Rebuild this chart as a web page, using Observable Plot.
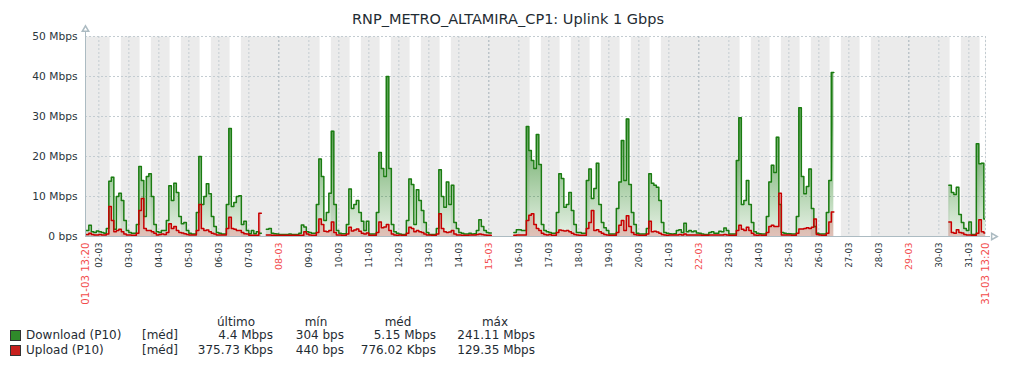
<!DOCTYPE html>
<html><head><meta charset="utf-8">
<script src="https://cdn.jsdelivr.net/npm/d3@7"></script>
<script src="https://cdn.jsdelivr.net/npm/@observablehq/plot@0.6"></script>
<style>
body{margin:0;background:#fff;font-family:"DejaVu Sans",sans-serif;color:#1f2c33}
#wrap{position:relative;width:1016px;height:368px;overflow:hidden}
#title{position:absolute;left:0;top:11px;width:1016px;text-align:center;font-size:14.5px;line-height:16px;white-space:nowrap}
#chart{position:absolute;left:0;top:26px}
.lg{position:absolute;font-size:12px;line-height:14px;white-space:nowrap}
.sw{position:absolute;width:9px;height:9px;border:1px solid #333}
</style></head>
<body><div id="wrap"><div id="title"></div><div id="chart"></div></div>
<script>
const N = null;
const chartTitle = "RNP_METRO_ALTAMIRA_CP1: Uplink 1 Gbps";
const yTicks = [0, 10, 20, 30, 40, 50];
const yTickLabels = ["0 bps", "10 Mbps", "20 Mbps", "30 Mbps", "40 Mbps", "50 Mbps"];
const startLabel = "01-03 13:20";
const endLabel = "31-03 13:20";

// 2-hour samples (Mbps), starting 01-03 12:00
const download = [
  1.5, 1.5, 2.8, 1.2, 1.0, 1.4,                                   // 01 (12h..22h)
  1.2, 1.0, 0.8, 2.0, 13.8, 14.8, 1.8, 10.0, 10.8, 9.0, 4.0, 1.5, // 02
  1.0, 0.8, 0.8, 3.0, 17.5, 14.0, 5.0, 15.0, 15.7, 10.0, 3.0, 1.2, // 03
  1.0, 1.5, 1.5, 4.0, 12.7, 9.0, 13.3, 11.0, 5.0, 3.2, 3.5, 1.5,  // 04
  0.8, 0.6, 0.6, 6.0, 20.0, 8.0, 10.0, 13.2, 10.7, 5.0, 2.5, 1.0, // 05
  0.8, 0.6, 0.6, 8.0, 27.0, 7.5, 8.5, 10.0, 10.2, 3.0, 3.8, 1.5,  // 06
  0.7, 1.5, 0.7, 1.2, 0.8, N, N, 1.8, 2.0, 0.8, 0.7, 0.6,         // 07
  0.5, 0.5, 0.5, 0.5, 0.6, 0.5, 0.5, 0.5, 0.8, 2.9, 2.4, 1.2,     // 08
  1.0, 0.8, 0.8, 8.0, 19.4, 15.0, 4.0, 6.0, 10.8, 26.3, 8.0, 1.5, // 09
  0.8, 0.7, 0.7, 3.0, 11.9, 7.0, 8.0, 9.0, 6.0, 3.8, 1.5, 3.8,    // 10
  0.6, 0.6, 0.6, 6.0, 21.0, 17.0, 15.0, 40.0, 17.0, 3.0, 1.2, 0.8, // 11
  0.6, 0.5, 0.5, 4.0, 14.4, 13.0, 3.0, 11.7, 9.0, 6.5, 3.5, 1.0,  // 12
  0.5, 0.5, 0.5, 2.0, 16.7, 10.0, 7.3, 13.6, 8.0, 12.8, 3.5, 2.0, // 13
  1.0, 0.8, 0.6, 0.6, 0.8, 0.6, 0.7, 1.5, 4.2, 2.5, 1.5, 1.0,     // 14
  0.9, N, N, N, N, N, N, N, N, N, 1.0, 1.7,                       // 15
  1.7, 1.5, 1.5, 27.5, 21.5, 19.0, 17.0, 25.5, 18.0, 3.0, 1.5, 1.2, // 16
  1.0, 0.8, 0.8, 6.0, 15.7, 14.5, 7.3, 8.0, 11.0, 6.5, 3.0, 1.0,  // 17
  1.0, 0.8, 0.8, 14.0, 16.9, 9.5, 12.0, 18.3, 8.0, 3.5, 2.2, 1.5, // 18
  0.6, 0.6, 0.6, 7.0, 13.6, 24.0, 14.0, 29.4, 13.0, 6.0, 3.0, 0.8, // 19
  0.6, 0.6, 0.6, 2.0, 15.7, 13.3, 12.8, 12.3, 9.0, 3.5, 1.0, 0.8, // 20
  0.7, 0.6, 0.7, 1.5, 1.7, 1.0, 3.3, 1.2, 1.5, 1.2, 1.4, 0.9,     // 21
  0.8, 0.6, 0.5, 0.5, 1.0, 1.2, 0.8, 0.8, 1.3, 1.2, 2.1, 1.5,     // 22
  0.6, 0.6, 0.6, 19.0, 29.7, 8.0, 9.0, 14.0, 8.0, 3.5, 1.2, 0.8,  // 23
  0.7, 0.6, 0.6, 5.0, 13.6, 17.8, 16.0, 24.8, 8.0, 1.0, 0.8, 0.7, // 24
  0.7, 0.6, 0.6, 5.0, 32.2, 15.0, 10.7, 12.5, 16.9, 7.0, 2.5, 0.8, // 25
  0.6, 0.6, 0.6, 6.0, 14.0, 41.0, N, N, N, N, N, N,               // 26
  N, N, N, N, N, N, N, N, N, N, N, N,                             // 27
  N, N, N, N, N, N, N, N, N, N, N, N,                             // 28
  N, N, N, N, N, N, N, N, N, N, N, N,                             // 29
  N, N, N, N, 12.8, 11.0, 10.5, 12.3, 5.5, 3.5, 2.0, 1.5,         // 30
  3.6, 0.5, 0.5, 23.2, 18.2, 18.3, 4.4                            // 31 (0h..12h)
];
const upload = [
  0.5, 0.5, 0.8, 0.5, 0.4, 0.4,                                   // 01
  0.5, 0.4, 0.4, 0.6, 7.5, 4.0, 1.2, 1.5, 1.8, 1.2, 0.6, 0.4,     // 02
  0.4, 0.3, 0.3, 0.8, 6.5, 9.5, 2.0, 1.5, 1.5, 1.2, 0.8, 0.4,     // 03
  0.5, 0.6, 0.5, 1.0, 3.2, 2.0, 2.5, 1.5, 1.0, 0.9, 0.7, 0.5,     // 04
  0.4, 0.4, 0.4, 1.5, 8.0, 2.0, 1.5, 1.6, 1.2, 0.8, 0.6, 0.4,     // 05
  0.4, 0.4, 0.4, 2.0, 4.8, 2.0, 1.8, 1.5, 1.5, 1.0, 0.7, 0.6,     // 06
  0.3, 0.3, 0.3, 0.3, 5.8, N, N, 0.4, 0.4, 0.3, 0.3, 0.3,         // 07
  0.3, 0.3, 0.3, 0.3, 0.3, 0.3, 0.3, 0.3, 0.3, 0.3, 1.2, 0.6,     // 08
  0.4, 0.3, 0.3, 1.0, 4.4, 3.0, 1.3, 1.2, 1.5, 3.6, 1.0, 0.4,     // 09
  0.4, 0.3, 0.3, 0.6, 2.3, 1.4, 1.6, 1.9, 1.3, 0.8, 0.6, 0.9,     // 10
  0.3, 0.3, 0.3, 1.0, 3.6, 2.2, 2.4, 3.0, 1.5, 0.6, 0.4, 0.3,     // 11
  0.4, 0.3, 0.3, 0.8, 2.3, 2.0, 1.2, 1.5, 1.2, 1.0, 0.6, 0.4,     // 12
  0.4, 0.3, 0.3, 0.6, 5.7, 2.0, 1.2, 1.0, 1.1, 1.5, 0.6, 0.4,     // 13
  0.4, 0.3, 0.3, 0.3, 0.4, 0.4, 0.4, 0.5, 0.6, 0.5, 0.4, 0.3,     // 14
  0.3, N, N, N, N, N, N, N, N, N, 0.3, 0.4,                       // 15
  0.4, 0.4, 0.4, 4.0, 5.3, 5.7, 3.0, 2.0, 1.5, 0.8, 0.5, 0.4,     // 16
  0.5, 0.3, 0.3, 1.0, 1.6, 1.5, 1.4, 1.5, 1.2, 0.8, 0.5, 0.4,     // 17
  0.3, 0.3, 0.3, 2.0, 3.5, 6.5, 1.5, 1.7, 1.2, 0.8, 0.5, 0.4,     // 18
  0.3, 0.3, 0.3, 1.0, 2.8, 4.0, 1.5, 5.2, 2.5, 1.0, 0.5, 0.4,     // 19
  0.3, 0.3, 0.3, 0.6, 3.8, 1.2, 1.3, 1.1, 0.8, 0.5, 0.4, 0.3,     // 20
  0.4, 0.4, 0.4, 0.4, 0.5, 0.4, 0.6, 0.4, 0.4, 0.4, 0.4, 0.4,     // 21
  0.4, 0.3, 0.3, 0.3, 0.4, 0.4, 0.4, 0.4, 0.4, 0.4, 0.5, 0.4,     // 22
  0.3, 0.3, 0.3, 1.5, 2.8, 1.8, 1.5, 2.3, 1.5, 0.8, 0.4, 0.3,     // 23
  0.4, 0.3, 0.3, 1.0, 2.5, 2.8, 2.5, 2.5, 10.8, 0.4, 0.4, 0.4,    // 24
  0.4, 0.3, 0.3, 0.8, 1.9, 1.9, 2.0, 2.2, 2.0, 2.3, 4.4, 0.5,     // 25
  0.4, 0.3, 0.3, 0.8, 3.6, 6.1, N, N, N, N, N, N,                 // 26
  N, N, N, N, N, N, N, N, N, N, N, N,                             // 27
  N, N, N, N, N, N, N, N, N, N, N, N,                             // 28
  N, N, N, N, N, N, N, N, N, N, N, N,                             // 29
  N, N, N, N, 3.6, 1.0, 0.8, 1.7, 1.0, 0.9, 0.5, 0.4,             // 30
  0.4, 0.3, 0.3, 0.8, 4.2, 1.2, 0.9                               // 31
];

// legend table
const legendHeaders = ["último", "mín", "méd", "máx"];
const legendNames = ["Download (P10)", "Upload (P10)"];
const legendAgg = ["[méd]", "[méd]"];
const lastValues = ["4.4 Mbps", "375.73 Kbps"];
const minValues = ["304 bps", "440 bps"];
const avgValues = ["5.15 Mbps", "776.02 Kbps"];
const maxValues = ["241.11 Mbps", "129.35 Mbps"];

const green = "#1a7c11", red = "#c80000", axisColor = "#acbbc2";
const t0 = new Date(Date.UTC(2020, 2, 1, 13, 20));
const t1 = new Date(Date.UTC(2020, 2, 31, 13, 20));
const seriesStart = Date.UTC(2020, 2, 1, 12, 0);
const STEP = 2 * 3600 * 1000;
function toSteps(values) {
  const out = [];
  values.forEach((v, i) => {
    out.push({t: new Date(seriesStart + i * STEP), v});
    out.push({t: new Date(seriesStart + (i + 1) * STEP), v});
  });
  return out;
}
const dl = toSteps(download), ul = toSteps(upload);

const fmt = d3.utcFormat("%d-%m");
const dayTicks = d3.range(2, 32).map(d => new Date(Date.UTC(2020, 2, d)));
const isSunday = d => d.getUTCDay() === 0;
const work = dayTicks.filter(d => d.getUTCDay() >= 1 && d.getUTCDay() <= 5)
  .map(d => ({start: new Date(+d + 9 * 3600e3), end: new Date(+d + 18 * 3600e3)}));
const normalLabels = dayTicks.filter(d => !isSunday(d)).map(d => ({t: d, label: fmt(d)}));
const redLabels = dayTicks.filter(isSunday).map(d => ({t: d, label: fmt(d)}));
const edgeLabels = [{t: t0, label: startLabel}, {t: t1, label: endLabel}];

document.getElementById("title").textContent = chartTitle;

const plot = Plot.plot({
  width: 1016, height: 284,
  marginTop: 10, marginBottom: 74, marginLeft: 85, marginRight: 31,
  style: {fontFamily: "DejaVu Sans", fontSize: "10.67px", color: "#2b363c", background: "transparent", overflow: "visible"},
  x: {type: "utc", domain: [t0, t1], axis: null},
  y: {domain: [0, 50], ticks: yTicks, tickFormat: d => yTickLabels[yTicks.indexOf(d)], tickSize: 0, tickPadding: 8, label: null},
  marks: [
    Plot.frame({fill: "#ebebeb", stroke: "none"}),
    Plot.rect(work, {x1: "start", x2: "end", fill: "white", clip: true}),
    Plot.ruleY(yTicks.slice(1), {stroke: "#c3ccd1", strokeDasharray: "2,2"}),
    Plot.ruleX(dayTicks.filter(d => !isSunday(d)), {x: d => d, stroke: "#c3ccd1", strokeDasharray: "2,2"}),
    Plot.ruleX(dayTicks.filter(isSunday), {x: d => d, stroke: "#a3b1b8", strokeDasharray: "2,2"}),
    Plot.ruleX([t1], {x: d => d, stroke: "#c3ccd1", strokeDasharray: "2,2"}),
    Plot.areaY(dl, {x: "t", y1: 0, y2: "v", fill: "url(#gradG)", clip: true}),
    Plot.areaY(ul, {x: "t", y1: 0, y2: "v", fill: red, fillOpacity: 0.2, clip: true}),
    Plot.lineY(dl, {x: "t", y: "v", stroke: green, strokeWidth: 1.5, clip: true}),
    Plot.lineY(ul, {x: "t", y: "v", stroke: red, strokeWidth: 1.5, clip: true}),
    Plot.ruleX([t0], {x: d => d, stroke: axisColor, insetTop: -4}),
    Plot.ruleY([0], {stroke: axisColor, insetRight: -5}),
    Plot.dot([t0], {x: d => d, frameAnchor: "top", symbol: "triangle", r: 2.4, stroke: axisColor, fill: "white", dy: -7}),
    Plot.dot([t1], {x: d => d, frameAnchor: "bottom", symbol: "triangle", rotate: 90, r: 2.4, stroke: axisColor, fill: "white", dx: 8}),
    Plot.text(normalLabels, {x: "t", text: "label", frameAnchor: "bottom", rotate: -90, textAnchor: "end", lineAnchor: "middle", dy: 6, fill: "#2b363c", fontSize: 8.7}),
    Plot.text(redLabels, {x: "t", text: "label", frameAnchor: "bottom", rotate: -90, textAnchor: "end", lineAnchor: "middle", dy: 6, fill: "#f24b4b", fontSize: 9.5}),
    Plot.text(edgeLabels, {x: "t", text: "label", frameAnchor: "bottom", rotate: -90, textAnchor: "end", lineAnchor: "middle", dy: 6, fill: "#f24b4b", fontSize: 10.2})
  ]
});
const ys = plot.scale("y");
const svgSel = d3.select(plot);
const defs = svgSel.insert("defs", ":first-child");
const g = defs.append("linearGradient").attr("id", "gradG").attr("gradientUnits", "userSpaceOnUse")
  .attr("x1", 0).attr("x2", 0).attr("y1", ys.apply(28)).attr("y2", ys.apply(0));
g.append("stop").attr("offset", 0).attr("stop-color", green).attr("stop-opacity", 0.7);
g.append("stop").attr("offset", 1).attr("stop-color", green).attr("stop-opacity", 0.1);
document.getElementById("chart").appendChild(plot);

// legend
const wrap = document.getElementById("wrap");
function cell(text, x, y, align) {
  const el = document.createElement("div");
  el.className = "lg";
  el.textContent = text;
  el.style.top = (y - 7) + "px";
  if (align === "right") el.style.right = (1016 - x) + "px";
  else if (align === "center") { el.style.left = (x - 60) + "px"; el.style.width = "120px"; el.style.textAlign = "center"; }
  else el.style.left = x + "px";
  wrap.appendChild(el);
}
const headerX = [236, 316, 398, 495];
legendHeaders.forEach((h, i) => cell(h, headerX[i], 322, "center"));
const rowY = [335, 350];
const swatchColors = ["#2f8a2a", "#c8201e"];
legendNames.forEach((name, r) => {
  const sw = document.createElement("div");
  sw.className = "sw";
  sw.style.left = "10px"; sw.style.top = (rowY[r] - 5) + "px";
  sw.style.background = swatchColors[r];
  wrap.appendChild(sw);
  cell(name, 26, rowY[r], "left");
  cell(legendAgg[r], 142, rowY[r], "left");
  cell(lastValues[r], 273, rowY[r], "right");
  cell(minValues[r], 344, rowY[r], "right");
  cell(avgValues[r], 436, rowY[r], "right");
  cell(maxValues[r], 535, rowY[r], "right");
});
</script></body></html>
